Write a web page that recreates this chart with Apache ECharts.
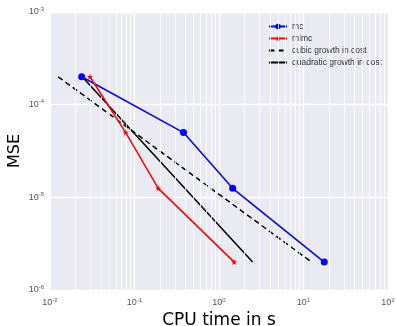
<!DOCTYPE html>
<html><head><meta charset="utf-8">
<script src="https://cdn.jsdelivr.net/npm/echarts@6/dist/echarts.min.js"></script>
<style>html,body{margin:0;padding:0;background:#fff}#c{width:396px;height:326px}</style>
</head><body><div id="c"></div>
<script>
// ---- data ----
const mcX = [0.0237, 0.38, 1.45, 17.6];
const mcY = [2.0e-4, 5.0e-5, 1.25e-5, 2.0e-6];
const mlmcX = [0.0297, 0.0787, 0.191, 1.51];
const mlmcY = [2.0e-4, 5.0e-5, 1.25e-5, 2.0e-6];
const cubicX = [0.0125, 12.5];
const cubicY = [2.0e-4, 2.0e-6];
const quadX = [0.024, 2.5];
const quadY = [2.0e-4, 2.0e-6];
const xTickExp = [-2, -1, 0, 1, 2];
const yTickExp = [-6, -5, -4, -3];
const seriesNames = ['mc', 'mlmc', 'cubic growth in cost', 'quadratic growth in cost'];

const pair = (xs, ys) => xs.map((x, i) => [x, ys[i]]);
const STAR = 'path://M0,-10L2.35,-3.24L9.51,-3.09L3.8,1.24L5.88,8.09L0,4L-5.88,8.09L-3.8,1.24L-9.51,-3.09L-2.35,-3.24Z';

function minorVals(exps) {
  const out = [];
  for (let i = 0; i < exps.length - 1; i++)
    for (let m = 2; m <= 9; m++) out.push(m * Math.pow(10, exps[i]));
  return out;
}
const minorLines = minorVals(xTickExp).map(v => ({ xAxis: v }))
  .concat(minorVals(yTickExp).map(v => ({ yAxis: v })));

function expLabel(v) {
  const e = Math.round(Math.log10(v));
  return '{b|10}{s|' + e + '}';
}
const rich = {
  b: { fontSize: 9, color: '#555', fontFamily: 'Liberation Sans' },
  s: { fontSize: 6, color: '#555', fontFamily: 'Liberation Sans', verticalAlign: 'top', padding: [0, 0, 6, 0] }
};
const hidden = { color: 'rgba(0,0,0,0)', borderWidth: 0, borderColor: 'rgba(0,0,0,0)' };

const chart = echarts.init(document.getElementById('c'), null, { renderer: 'canvas' });
chart.setOption({
  animation: false,
  grid: { left: 50, right: 8, top: 12, bottom: 36, show: true, backgroundColor: '#EAEAF2', borderWidth: 0,
          containLabel: false, outerBoundsMode: 'none' },
  legend: {
    orient: 'vertical', left: 263, top: 17, itemWidth: 18, itemHeight: 7, itemGap: 3,
    data: [
      { name: seriesNames[0] },
      { name: seriesNames[1] },
      { name: seriesNames[2], itemStyle: hidden },
      { name: seriesNames[3], itemStyle: hidden }
    ],
    textStyle: { fontSize: 8.5, color: '#333', fontFamily: 'Liberation Sans' }
  },
  xAxis: {
    type: 'log', logBase: 10, min: Math.pow(10, xTickExp[0]), max: Math.pow(10, xTickExp[xTickExp.length - 1]),
    name: 'CPU time in s', nameLocation: 'middle', nameGap: 20,
    nameTextStyle: { fontSize: 17, color: '#000', fontFamily: 'DejaVu Sans' },
    axisLine: { show: false }, axisTick: { show: false },
    axisLabel: { formatter: expLabel, rich: rich, margin: 7 },
    splitLine: { show: true, lineStyle: { color: '#fff', width: 1.3 } }
  },
  yAxis: {
    type: 'log', logBase: 10, min: Math.pow(10, yTickExp[0]), max: Math.pow(10, yTickExp[yTickExp.length - 1]),
    name: 'MSE', nameLocation: 'middle', nameGap: 27, nameMoveOverlap: false,
    nameTextStyle: { fontSize: 16, color: '#000', fontFamily: 'DejaVu Sans' },
    axisLine: { show: false }, axisTick: { show: false },
    axisLabel: { formatter: expLabel, rich: rich, margin: 6 },
    splitLine: { show: true, lineStyle: { color: '#fff', width: 1.3 } }
  },
  series: [
    { type: 'line', name: '__grid', data: [], z: 1, silent: true,
      markLine: { silent: true, symbol: 'none', label: { show: false },
        lineStyle: { color: '#fff', width: 0.8, type: 'solid' }, data: minorLines } },
    { type: 'line', name: seriesNames[0], data: pair(mcX, mcY), color: '#0000ff',
      symbol: 'circle', symbolSize: 7, lineStyle: { width: 1.5 }, z: 5 },
    { type: 'line', name: seriesNames[1], data: pair(mlmcX, mlmcY), color: '#ff0000',
      symbol: STAR, symbolSize: 6, lineStyle: { width: 1.5 }, z: 5 },
    { type: 'line', name: seriesNames[2], data: pair(cubicX, cubicY), color: '#000',
      symbol: 'none', lineStyle: { width: 1.5, type: [5.5, 3.5] }, z: 4 },
    { type: 'line', name: seriesNames[3], data: pair(quadX, quadY), color: '#000',
      symbol: 'none', lineStyle: { width: 1.5 }, z: 4 }
  ]
});
</script></body></html>
